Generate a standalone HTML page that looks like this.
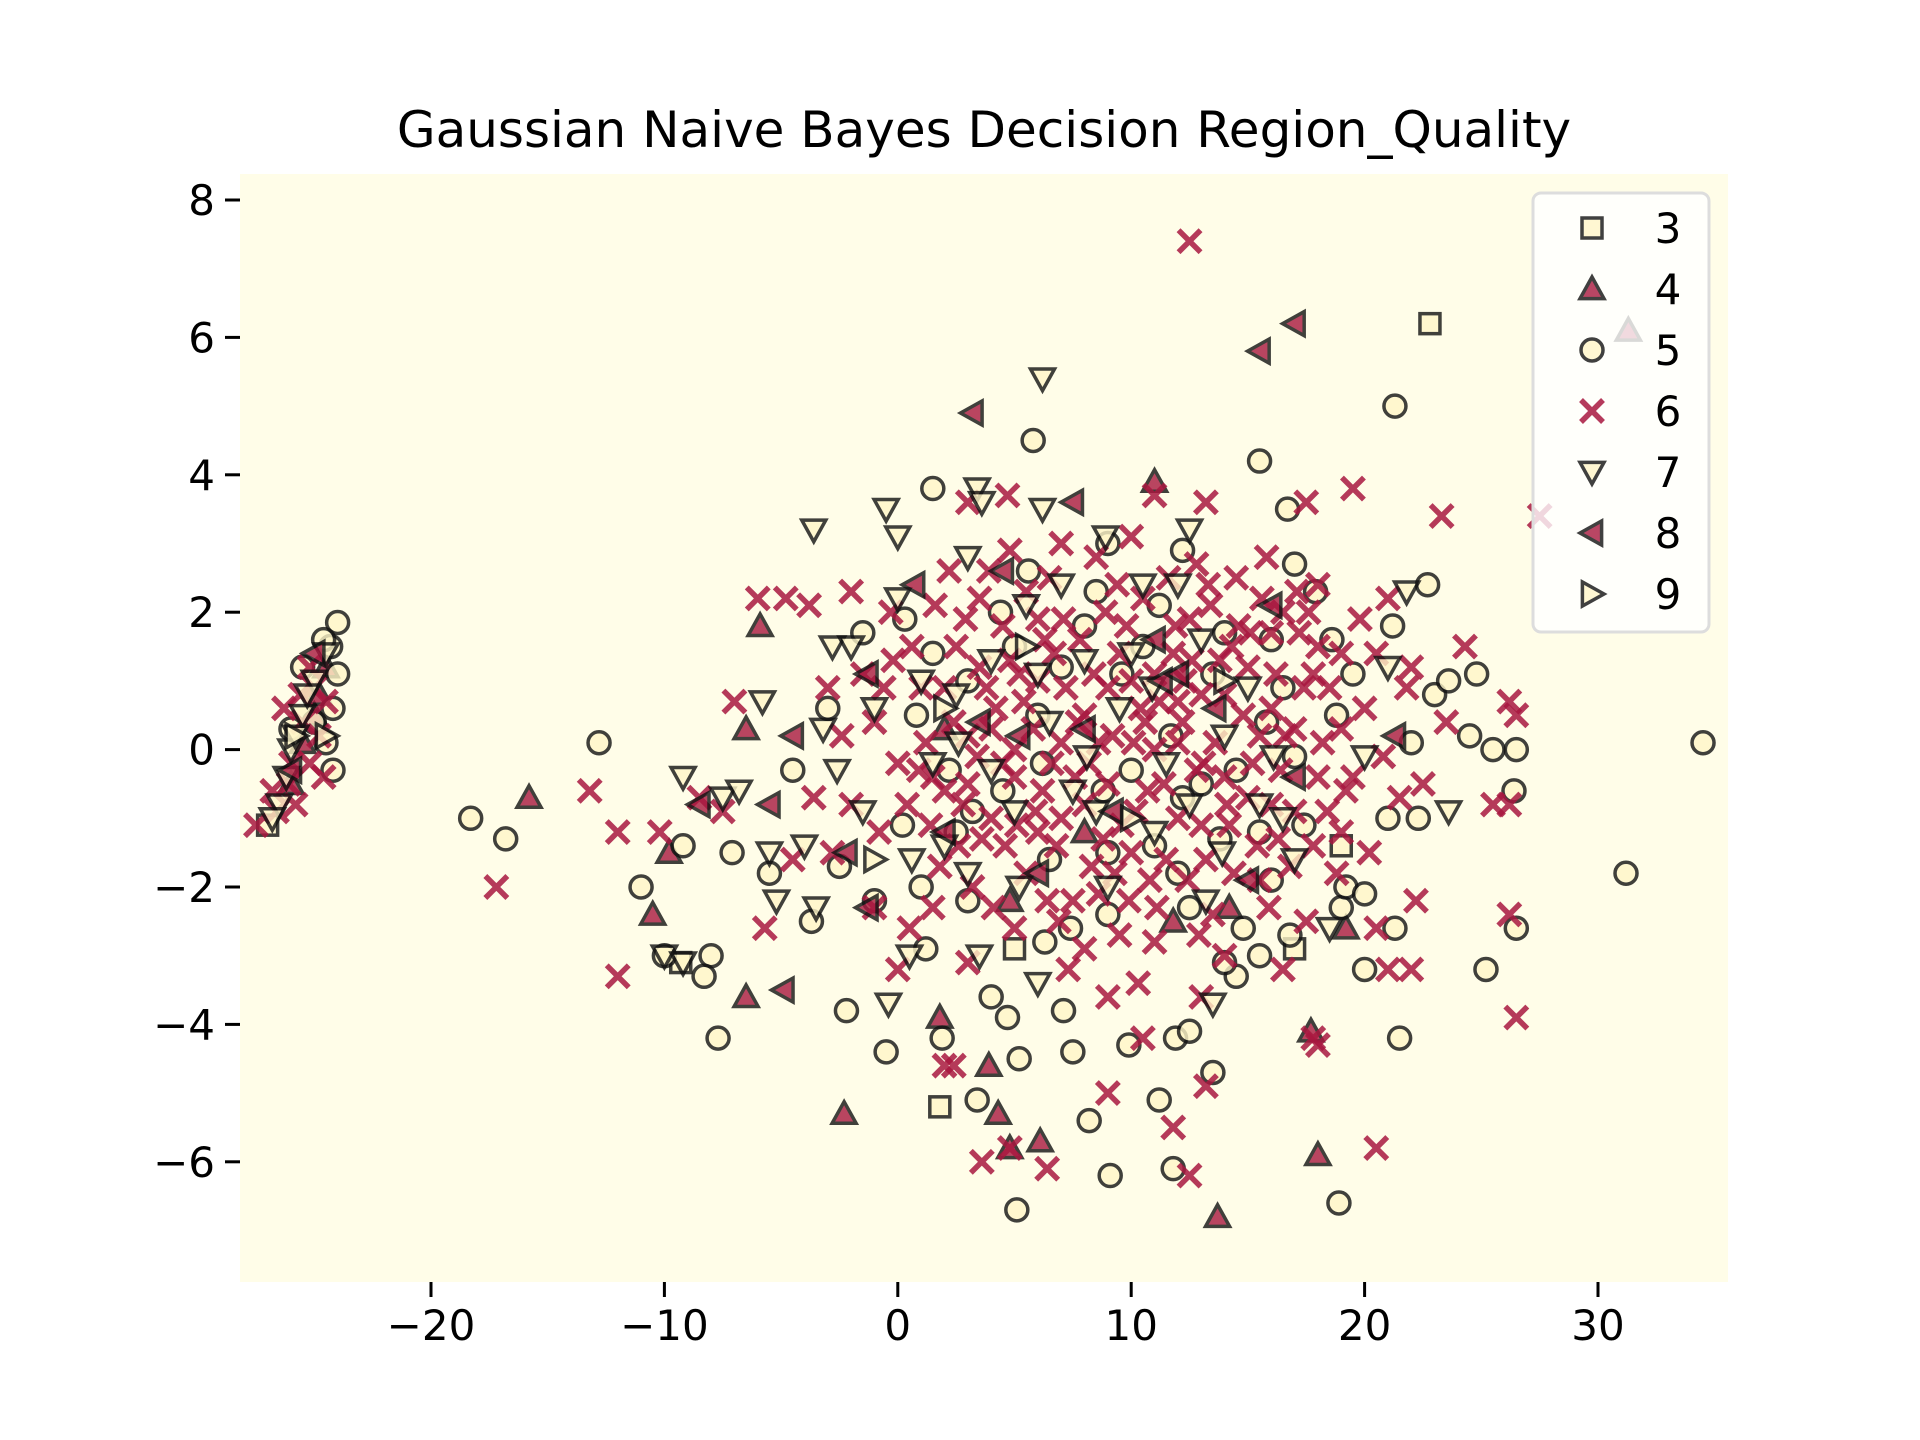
<!DOCTYPE html>
<html><head><meta charset="utf-8"><style>
html,body{margin:0;padding:0;background:#fff;}
svg{display:block;font-family:"DejaVu Sans","Liberation Sans",sans-serif;}
</style></head><body>
<svg id="chart" width="1920" height="1440" viewBox="0 0 1920 1440" xmlns="http://www.w3.org/2000/svg">
<rect x="0" y="0" width="1920" height="1440" fill="#ffffff"/>
<rect x="240" y="174" width="1488" height="1108" fill="#fffde8"/>
<text x="984" y="147" font-size="50" text-anchor="middle" fill="#000">Gaussian Naive Bayes Decision Region_Quality</text>
<g id="axes"></g>
<g id="points"></g>
<g id="legend"></g>
</svg>
<script>
const xTicks=[-20,-10,0,10,20,30];
const yTicks=[8,6,4,2,0,-2,-4,-6];
const classLabels=["3","4","5","6","7","8","9"];
const class3=[[22.8,6.2],[1.8,-5.2],[5,-2.9],[19,-1.4],[-27,-1.1],[-9.3,-3.1],[17,-2.9]];
const class4=[[31.3,6.1],[11,3.9],[-15.8,-0.7],[-10.5,-2.4],[-6.5,-3.6],[-2.3,-5.3],[1.8,-3.9],[3.9,-4.6],[4.3,-5.3],[4.8,-5.8],[6.1,-5.7],[13.7,-6.8],[18,-5.9],[17.7,-4.1],[19.2,-2.6],[-5.9,1.8],[-6.5,0.3],[-9.8,-1.5],[14.2,-2.3],[11.8,-2.5],[4.8,-2.2],[8,-1.2],[2,0.3],[-25,0.5],[-26,-0.5],[-24.5,1.2],[-25.5,0.1],[-24.8,0.8]];
const class5=[[34.5,0.1],[31.2,-1.8],[21.3,5],[15.5,4.2],[5.8,4.5],[1.5,3.8],[-12.8,0.1],[-18.3,-1],[-16.8,-1.3],[-11,-2],[-9.2,-1.4],[-10,-3],[-8,-3],[-7.7,-4.2],[-8.3,-3.3],[-3.7,-2.5],[-2.2,-3.8],[-0.5,-4.4],[1.9,-4.2],[3.4,-5.1],[5.1,-6.7],[5.2,-4.5],[7.5,-4.4],[8.2,-5.4],[9.1,-6.2],[9.9,-4.3],[11.2,-5.1],[11.8,-6.1],[11.9,-4.2],[12.5,-4.1],[13.5,-4.7],[14.5,-3.3],[14,-3.1],[15.5,-3],[16.8,-2.7],[18.9,-6.6],[21.5,-4.2],[20,-3.2],[21.3,-2.6],[22.3,-1],[25.2,-3.2],[26.5,-2.6],[26.4,-0.6],[25.5,0],[26.5,0],[24.5,0.2],[24.8,1.1],[23,0.8],[22.7,2.4],[23.6,1],[21.2,1.8],[17.9,2.3],[17,2.7],[16.7,3.5],[12.2,2.9],[9,3],[-7.1,-1.5],[-5.5,-1.8],[-1.5,1.7],[0.3,1.9],[1,-2],[-1,-2.2],[3,-2.2],[6.3,-2.8],[9,-2.4],[12,-1.8],[14.5,-0.3],[16,-1.9],[19,-2.3],[19.2,-2],[20,-2.1],[21,-1],[18.8,0.5],[16,1.6],[14,1.7],[10.5,1.5],[8,1.8],[5,1.5],[3,1],[0.8,0.5],[-3,0.6],[-4.5,-0.3],[7.1,-3.8],[4,-3.6],[4.7,-3.9],[1.2,-2.9],[-2.5,-1.7],[22,0.1],[11.7,0.2],[6,0.5],[13,-0.5],[17,-0.1],[9,-1.5],[2.5,-1.2],
[7,1.2],[10,-0.3],[13.5,1.1],[15.5,-1.2],[4.5,-0.6],[8.5,2.3],[11,-1.4],[1.5,1.4],[6.5,-1.6],[16.5,0.9],[19.5,1.1],[12.5,-2.3],
[3.2,-0.9],[5.6,2.6],[7.4,-2.6],[9.6,1.1],[11.2,2.1],[13.8,-1.3],[14.8,-2.6],[17.4,-1.1],[18.6,1.6],[2.2,-0.3],[0.2,-1.1],[6.2,-0.2],[8.8,-0.6],[12.2,-0.7],[15.8,0.4],[4.4,2.0],
[-24,1.85],[-24.3,1.5],[-24,1.1],[-24.2,0.6],[-24.5,0.1],[-24.2,-0.3],[-25.5,1.2],[-26,0.3],[-24.6,1.6],[-25,0.4]];
const class6=[[12.5,7.4],[27.5,3.4],[23.3,3.4],[19.5,3.8],[17.5,3.6],[13.2,3.6],[11,3.7],[4.7,3.7],[3,3.6],[-4.8,2.2],[-3.8,2.1],[-6,2.2],[-2,2.3],[24.3,1.5],[22,1.2],[26.2,0.7],[26.5,0.5],[25.5,-0.8],[26.2,-0.8],[26.5,-3.9],[26.2,-2.4],[22.2,-2.2],[21,-3.2],[22,-3.2],[20.5,-5.8],[20.5,-2.6],[17.8,-4.2],[18,-4.3],[13.2,-4.9],[12.5,-6.2],[11.8,-5.5],[10.5,-4.2],[9,-5],[9,-3.6],[3.6,-6],[6.4,-6.1],[4.8,-5.8],[2.4,-4.6],[2,-4.6],[-12,-3.3],[-17.2,-2],[-13.2,-0.6],[-12,-1.2],[-10.2,-1.2],[-8.5,-0.7],[-7.5,-0.9],[-5.7,-2.6],[-7,0.7],[-4.5,-1.6],[-2.8,-1.5],[-1,-2.3],[0,-3.2],[0.5,-2.6],[1.5,-2.3],
[5,0],[6,1],[7,-1],[8,0.5],[9,-0.5],[10,1],[11,0],[12,-1],[13,0.8],[14,-0.4],[15,1.2],[16,-0.8],[17,0.3],[18,1.5],[19,-1.2],[20,0.6],[4,-1],[3,0.2],[2,-0.6],[1,0.9],[0,-0.2],[-1,0.4],[-2,-0.8],[-3,0.9],[2.5,1.5],[3.5,2.2],[4.5,1.8],[5.5,-1.8],[6.5,2.5],[7.5,-2.2],[8.5,2.8],[9.5,-2.7],[10.5,2.2],[11.5,-1.6],[12.5,1.9],[13.5,-2.4],[14.5,2.5],[15.5,-1.9],[16.5,2],[17.5,-2.5],[18.5,0.9],[19.5,-0.4],[20.5,1.4],[21.5,-0.7],[4.2,0.6],[5.8,0.3],[7.2,0.9],[8.8,-1.3],[10.2,-0.9],[11.8,1.4],[13.2,-1.6],[14.8,0.5],[16.2,1.1],[17.8,-1.4],[3.2,-2],[1.8,-1.7],[0.6,1.5],[-0.8,-1.2],[-2.4,0.2],[-3.6,-0.7],[6.2,-0.6],[7.8,1.6],[9.2,0.2],[10.8,-1.9],[12.2,0.4],[13.8,1.3],[15.2,-0.2],[16.8,-1.7],[18.2,0.1],[19.8,1.9],[2.2,2.6],[4.8,2.9],[7,3],[10,3.1],[12.8,2.7],[15.8,2.8],[5,-2.6],[8,-2.9],[11,-2.8],[14,-3],[16.5,-3.2],[3.8,0.9],[6.8,-1.4],[9.8,1.8],[12.8,-0.3],[15.5,0.2],[18.8,-1.8],[1.2,0.1],[-1.5,1.1],[2.8,-0.8],[5.2,1.1],[8.2,-0.2],[11.2,0.7],[14.2,-1.1],[17.2,1.7],[20.2,-1.5],[-0.3,2.0],[3,-3.1],[7.3,-3.2],[10.3,-3.4],[13,-3.6],[22.5,-0.5],[23.5,0.4],[21,2.2],[1.5,-0.4],[4.5,-0.2],[6,1.9],[9.3,-1.8],[13.6,0.1],[16,0.6],[18,2.4],[19,0.3],
[2,0.9],[3,-0.5],[4,0.3],[5,-0.4],[6,-1.2],[7,0.1],[8,-0.8],[9,0.9],[10,-1.5],[11,1.1],[12,0.1],[13,-1.1],[14,0.8],[15,-0.7],[16,1.7],[17,-0.9],[18,-0.4],[19,1.4],[3.5,1.2],[5.5,2.3],[6.7,1.4],[8.4,1.1],[9.6,-1.1],[11.4,-0.5],[12.6,1.3],[14.4,-1.8],[16.4,-0.3],[2.6,-1.4],[4.6,-1.4],[6.4,-2.2],[8.6,-2.1],[10.6,0.4],[12.4,-1.9],[14.6,1.8],[17.4,0.9],[0.4,-0.8],[-0.6,0.9],[1.6,2.1],[3.4,-0.1],[7.6,-0.4],[9.4,2.4],[11.6,2.5],[13.4,2.1],[15.6,2.2],[17.6,2.0],[5.4,0.7],[10.4,0.6],[6.6,-0.2],[8.6,0.1],[12,0.7],
[2.4,0.4],[3.6,-1.3],[4.8,1.3],[5.9,-0.9],[7.1,1.9],[8.3,-1.7],[9.5,1.4],[10.7,-0.6],[11.9,1.8],[13.1,-0.2],[14.3,1.5],[15.4,-1.4],[16.6,0.2],[17.8,1.1],[1.4,-1.1],[3.9,2.6],[6.9,-2.5],[9.9,-2.2],[12.9,-2.7],[15.9,-2.3],[2.9,1.9],[5.1,-1.1],[7.7,0.4],[10.1,0.1],[12.3,1.0],[14.1,-0.8],[16.3,-1.3],[18.4,-0.9],[0.9,-0.3],[-0.2,1.3],[4.1,-2.3],[6.3,1.6],[8.9,2.0],[11.1,-2.3],[13.3,2.4],[15.1,1.7],[17.1,2.3],[19.2,-0.6],[20.8,-0.1],[21.8,0.9]];
class6.push([-27.5,-1.1],[-26.8,-0.6],[-26,-0.2],[-25.5,0.4],[-25,0.9],[-24.8,0.2],[-25.8,-0.8],[-24.6,-0.4],[-25.2,1.2],[-26.3,0.6],[-26.6,-0.9],[-25.2,-0.2],[-24.5,0.7],[-25.6,0.8],[-26.1,-0.5]);
const class7=[[6.2,5.4],[3.4,3.8],[3.6,3.6],[-3.6,3.2],[-0.5,3.5],[0,3.1],[6.2,3.5],[8.9,3.1],[12.5,3.2],[-9.2,-0.4],[-7.5,-0.7],[-6.8,-0.6],[-5.5,-1.5],[-5.2,-2.2],[-3.5,-2.3],[-10,-3],[-9.2,-3.1],[-0.4,-3.7],[0.5,-3],[3.5,-3],[6,-3.4],[13.5,-3.7],[13.2,-2.2],[18.5,-2.6],[23.6,-0.9],[21.8,2.3],[21,1.2],[20,-0.1],[-5.8,0.7],[-3.2,0.3],[-2.8,1.5],[-1,0.6],[0,2.2],[2.5,0.8],[5.5,2.1],[8,1.3],[10.5,2.4],[12,2.4],[14,0.2],[17,-1.6],[15.5,-0.8],[11,-1.2],[8.5,-0.9],[5,-0.9],[2,-1.4],[-1.5,-0.9],[-4,-1.4],[6.5,0.4],[9.5,0.6],[12.5,-0.8],[3,2.8],[1,1],[7,2.4],[16.5,-1],[-2,1.5],[4,1.3],
[4,-0.3],[7.5,-0.6],[10,1.4],[3,-1.8],[6,1.1],[9,-2],[13,1.6],[15,0.9],[1.5,-0.2],[11.5,-0.2],
[2.6,0.1],[5.2,-2.0],[8.1,-0.1],[10.9,0.9],[13.9,-1.5],[-2.6,-0.3],[0.6,-1.6],[16.1,-0.1],
[-26.5,-0.8],[-26,0],[-25.5,0.5],[-25,1],[-24.5,1.4],[-26.8,-1],[-25.8,0.2],[-26.2,-0.4],[-25.3,0.8]];
const class8=[[17,6.2],[15.5,5.8],[3.2,4.9],[7.5,3.6],[16,2.1],[21.3,0.2],[11.3,1],[12,1.1],[3.5,0.4],[0.7,2.4],[-1.3,1.1],[-4.5,0.2],[-4.9,-3.5],[-5.5,-0.8],[-8.5,-0.8],[-2.2,-1.5],[-1.3,-2.3],[6,-1.8],[2,-1.2],[15,-1.9],[17,-0.4],[11,1.6],[8,0.3],[4.5,2.6],[-25,1.4],[-26,-0.3],[5.2,0.2],[9.2,-0.9],[13.6,0.6]];
const class9=[[-24.5,0.2],[-25.8,0.2],[2,0.6],[5.5,1.5],[10,-1],[14,1],[-1,-1.6]];

const X0=897.8, XS=23.34, Y0=749.6, YS=68.7;
function sx(v){return X0+v*XS;}
function sy(v){return Y0-v*YS;}
const NS="http://www.w3.org/2000/svg";
function mk(tag,attrs,parent){const e=document.createElementNS(NS,tag);for(const k in attrs)e.setAttribute(k,attrs[k]);parent.appendChild(e);return e;}
const axes=document.getElementById('axes');
xTicks.forEach(t=>{
  const g=mk('g',{},axes);
  
  
  mk('line',{x1:sx(t),x2:sx(t),y1:1282,y2:1297,stroke:'#000','stroke-width':3},g);
  const tx=mk('text',{x:sx(t),y:1340,'font-size':42,'text-anchor':'middle',fill:'#000'},g);
  tx.textContent=(t<0?'\u2212'+(-t):String(t));
});
yTicks.forEach(t=>{
  const g=mk('g',{},axes);
  
  
  mk('line',{x1:225,x2:240,y1:sy(t),y2:sy(t),stroke:'#000','stroke-width':3},g);
  const tx=mk('text',{x:215,y:sy(t)+15,'font-size':42,'text-anchor':'end',fill:'#000'},g);
  tx.textContent=(t<0?'\u2212'+(-t):String(t));
});
const RED='#a8183f', YEL='#fff6c8', EDGE='#111';
function marker(shape,cx,cy,parent){
  const r=12;let e;
  const common={stroke:EDGE,'stroke-width':3.5,'stroke-linejoin':'miter',opacity:0.8};
  if(shape==='s'){e=mk('rect',Object.assign({x:cx-10,y:cy-10,width:20,height:20,fill:YEL},common),parent);}
  else if(shape==='o'){e=mk('circle',Object.assign({cx:cx,cy:cy,r:11,fill:YEL},common),parent);}
  else if(shape==='^'){e=mk('polygon',Object.assign({points:`${cx},${cy-r} ${cx+r},${cy+r*0.8} ${cx-r},${cy+r*0.8}`,fill:RED},common),parent);}
  else if(shape==='v'){e=mk('polygon',Object.assign({points:`${cx},${cy+r} ${cx+r},${cy-r*0.8} ${cx-r},${cy-r*0.8}`,fill:YEL},common),parent);}
  else if(shape==='<'){e=mk('polygon',Object.assign({points:`${cx-r},${cy} ${cx+r*0.8},${cy-r} ${cx+r*0.8},${cy+r}`,fill:RED},common),parent);}
  else if(shape==='>'){e=mk('polygon',Object.assign({points:`${cx+r},${cy} ${cx-r*0.8},${cy-r} ${cx-r*0.8},${cy+r}`,fill:YEL},common),parent);}
  else {e=mk('path',{d:`M${cx-11},${cy-11}L${cx+11},${cy+11}M${cx-11},${cy+11}L${cx+11},${cy-11}`,stroke:RED,'stroke-width':5.5,opacity:0.85,fill:'none'},parent);}
  return e;
}
const pts=document.getElementById('points');
const series=[[class3,'s','class-3'],[class4,'^','class-4'],[class5,'o','class-5'],[class6,'x','class-6'],[class7,'v','class-7'],[class8,'<','class-8'],[class9,'>','class-9']];
series.forEach(([arr,shape,name])=>{
  const g=mk('g',{},pts);
  
  
  arr.forEach(p=>{
    const m=marker(shape,sx(p[0]),sy(p[1]),g);
    
    
  });
});
const leg=document.getElementById('legend');
const box=mk('rect',{x:1533,y:193,width:176,height:439,rx:8,fill:'#ffffff','fill-opacity':0.8,stroke:'#dddddd','stroke-width':3},leg);


series.forEach(([arr,shape,name],i)=>{
  const g=mk('g',{},leg);
  
  
  const y=228+i*61;
  marker(shape,1592,y,g);
  const t=mk('text',{x:1668,y:y+15,'font-size':42,'text-anchor':'middle',fill:'#000'},g);
  t.textContent=classLabels[i];
});
</script>
</body></html>
